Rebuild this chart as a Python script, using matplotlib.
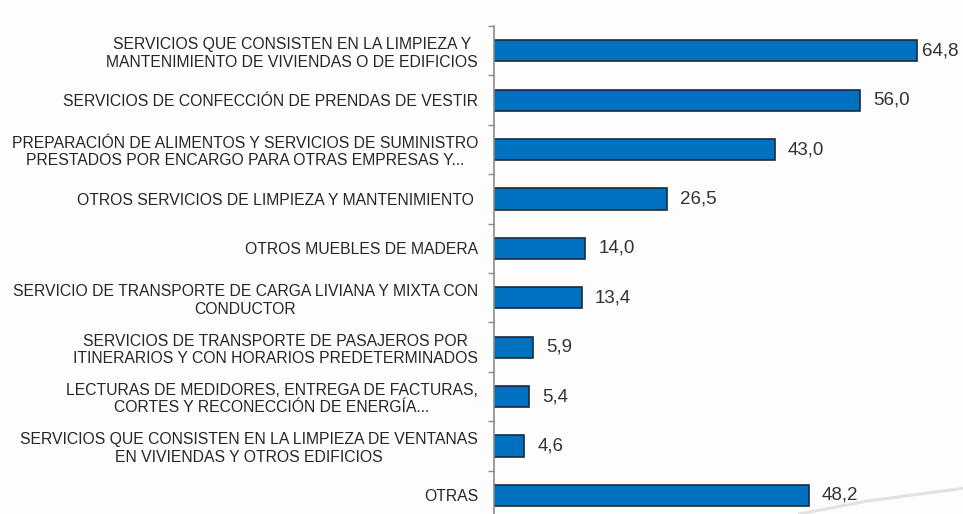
import matplotlib.pyplot as plt
from matplotlib.lines import Line2D
from matplotlib.ticker import MultipleLocator

plt.rcParams['font.family'] = ['Liberation Sans', 'DejaVu Sans']

categorias = [
    'SERVICIOS QUE CONSISTEN EN LA LIMPIEZA Y\nMANTENIMIENTO DE VIVIENDAS O DE EDIFICIOS',
    'SERVICIOS DE CONFECCIÓN DE PRENDAS DE VESTIR',
    'PREPARACIÓN DE ALIMENTOS Y SERVICIOS DE SUMINISTRO\nPRESTADOS POR ENCARGO PARA OTRAS EMPRESAS Y...',
    'OTROS SERVICIOS DE LIMPIEZA Y MANTENIMIENTO ',
    'OTROS MUEBLES DE MADERA',
    'SERVICIO DE TRANSPORTE DE CARGA LIVIANA Y MIXTA CON\nCONDUCTOR',
    'SERVICIOS DE TRANSPORTE DE PASAJEROS POR\nITINERARIOS Y CON HORARIOS PREDETERMINADOS',
    'LECTURAS DE MEDIDORES, ENTREGA DE FACTURAS,\nCORTES Y RECONECCIÓN DE ENERGÍA...',
    'SERVICIOS QUE CONSISTEN EN LA LIMPIEZA DE VENTANAS\nEN VIVIENDAS Y OTROS EDIFICIOS',
    'OTRAS',
]
valores = [64.8, 56.0, 43.0, 26.5, 14.0, 13.4, 5.9, 5.4, 4.6, 48.2]

fig = plt.figure(figsize=(9.63, 5.14), dpi=100, facecolor='#fdfdfd')
ax = fig.add_axes([0.513, -0.0117, 0.4746, 0.961])
ax.set_facecolor('none')

pos = range(len(valores))
ax.barh(pos, valores, height=0.43, color='#0070c0', edgecolor='#1c2b3a', linewidth=1.2)

ax.set_xlim(0, 70)
ax.set_ylim(len(valores) - 0.5, -0.5)

ax.set_yticks(list(pos))
ax.set_yticklabels(categorias, fontsize=11.3, color='#262626', multialignment='center')
ax.tick_params(axis='y', which='major', length=0, pad=11.5)
ax.yaxis.set_minor_locator(MultipleLocator(1, offset=0.5))
ax.tick_params(axis='y', which='minor', length=4, width=1, color='#8c8c8c', direction='out')
ax.set_xticks([])

for s in ['top', 'right', 'bottom']:
    ax.spines[s].set_visible(False)
ax.spines['left'].set_color('#8c8c8c')
ax.spines['left'].set_linewidth(1.2)

# etiquetas de valor con coma decimal
for i, v in enumerate(valores):
    off = 3.5 if v == max(valores) else 9.5
    ax.annotate(f'{v:.1f}'.replace('.', ','), (v, i), xytext=(off, 0),
                textcoords='offset points', va='center', ha='left',
                fontsize=13.5, color='#333333')

# trazo decorativo del fondo
fig.add_artist(Line2D([0.83, 0.9, 0.96, 1.0], [0.0, 0.025, 0.04, 0.05],
                      transform=fig.transFigure, color='#e2e2e2', lw=2.2,
                      solid_capstyle='round'))

fig.savefig('out.png', dpi=100, facecolor=fig.get_facecolor())
